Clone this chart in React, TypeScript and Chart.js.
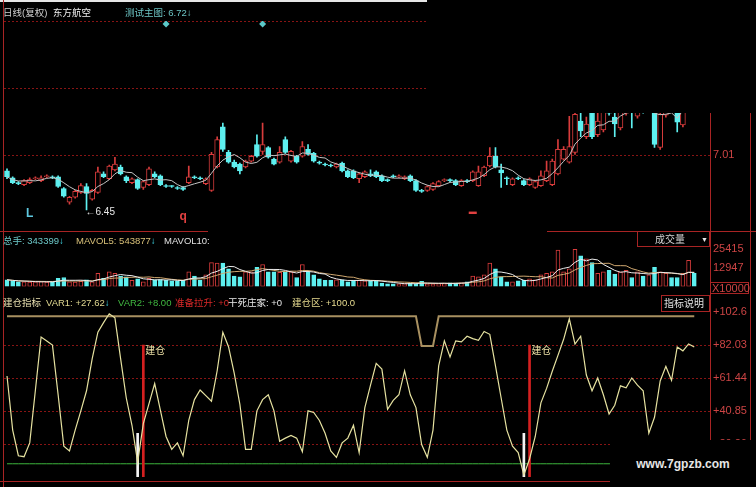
import React, { useEffect, useRef } from 'react';
import { Chart, registerables } from 'chart.js';
Chart.register(...registerables);

// ---------- data ----------
const openP = [
  6.85, 6.78, 6.73, 6.71, 6.73, 6.77, 6.75, 6.79, 6.79, 6.79,
  6.67, 6.53, 6.58, 6.63, 6.69, 6.56, 6.63, 6.82, 6.77, 6.86,
  6.89, 6.79, 6.73, 6.76, 6.68, 6.71, 6.82, 6.80, 6.70, 6.70,
  6.68, 6.68, 6.73, 6.79, 6.78, 6.72, 6.65, 6.89, 7.30, 7.04,
  6.94, 6.92, 6.89, 6.95, 7.12, 7.05, 7.09, 6.97, 6.94, 7.17,
  6.95, 7.00, 7.00, 7.07, 7.03, 6.94, 6.92, 6.91, 6.89, 6.93,
  6.85, 6.85, 6.77, 6.79, 6.82, 6.84, 6.80, 6.76, 6.80, 6.79,
  6.77, 6.80, 6.75, 6.65, 6.65, 6.66, 6.70, 6.75, 6.76, 6.75,
  6.70, 6.75, 6.75, 6.70, 6.80, 6.90, 7.00, 6.86, 6.78, 6.71,
  6.78, 6.75, 6.71, 6.68, 6.70, 6.75, 6.71, 6.82, 6.97, 6.94,
  7.04, 7.36, 7.20, 7.58, 7.22, 7.27, 7.52, 7.40, 7.29, 7.44,
  7.60, 7.41, 7.58, 7.48, 7.55, 7.09, 7.42, 7.56, 7.58, 7.32,
  7.52, 7.64,
];
const highP = [
  6.87, 6.79, 6.74, 6.76, 6.78, 6.79, 6.80, 6.81, 6.80, 6.80,
  6.68, 6.59, 6.65, 6.72, 6.72, 6.66, 6.89, 6.84, 6.91, 6.99,
  6.91, 6.80, 6.78, 6.77, 6.75, 6.89, 6.84, 6.81, 6.71, 6.70,
  6.69, 6.69, 6.90, 6.80, 6.79, 6.78, 7.04, 7.20, 7.34, 7.06,
  6.96, 6.93, 6.96, 7.01, 7.22, 7.34, 7.10, 6.98, 7.10, 7.20,
  7.06, 7.01, 7.15, 7.12, 7.04, 6.95, 6.93, 6.92, 6.93, 6.94,
  6.86, 6.86, 6.83, 6.85, 6.86, 6.85, 6.81, 6.77, 6.81, 6.81,
  6.80, 6.81, 6.76, 6.66, 6.70, 6.73, 6.75, 6.77, 6.77, 6.76,
  6.76, 6.76, 6.85, 6.90, 6.90, 7.09, 7.09, 6.92, 6.79, 6.78,
  6.79, 6.76, 6.78, 6.75, 6.85, 6.95, 6.97, 7.17, 7.10, 7.41,
  7.60, 7.55, 7.40, 7.62, 7.45, 7.55, 7.58, 7.48, 7.55, 7.60,
  7.65, 7.58, 7.63, 7.65, 7.60, 7.50, 7.60, 7.62, 7.62, 7.58,
  7.68, 7.68,
];
const lowP = [
  6.77, 6.72, 6.71, 6.70, 6.72, 6.76, 6.74, 6.78, 6.77, 6.68,
  6.58, 6.51, 6.57, 6.62, 6.45, 6.55, 6.62, 6.78, 6.76, 6.85,
  6.81, 6.73, 6.72, 6.66, 6.66, 6.70, 6.78, 6.70, 6.68, 6.68,
  6.66, 6.65, 6.72, 6.77, 6.76, 6.71, 6.64, 6.88, 7.05, 6.93,
  6.88, 6.82, 6.88, 6.94, 6.99, 7.02, 6.98, 6.91, 6.93, 7.03,
  6.94, 6.93, 6.99, 7.01, 6.94, 6.92, 6.90, 6.89, 6.88, 6.84,
  6.78, 6.77, 6.73, 6.78, 6.79, 6.78, 6.74, 6.74, 6.78, 6.78,
  6.76, 6.74, 6.64, 6.63, 6.64, 6.65, 6.69, 6.74, 6.74, 6.70,
  6.69, 6.73, 6.74, 6.69, 6.79, 6.89, 6.88, 6.68, 6.71, 6.70,
  6.76, 6.70, 6.70, 6.67, 6.69, 6.74, 6.70, 6.81, 6.96, 6.93,
  7.02, 7.20, 7.18, 7.18, 7.20, 7.25, 7.42, 7.20, 7.27, 7.42,
  7.29, 7.39, 7.44, 7.46, 7.09, 7.07, 7.40, 7.50, 7.25, 7.30,
  7.50, 7.52,
];
const closeP = [
  6.79, 6.73, 6.72, 6.75, 6.76, 6.78, 6.78, 6.80, 6.78, 6.69,
  6.59, 6.58, 6.64, 6.70, 6.62, 6.65, 6.84, 6.79, 6.90, 6.92,
  6.82, 6.75, 6.77, 6.67, 6.74, 6.87, 6.79, 6.71, 6.69, 6.69,
  6.67, 6.66, 6.79, 6.78, 6.77, 6.77, 7.02, 7.17, 7.07, 6.94,
  6.89, 6.85, 6.95, 7.00, 7.00, 7.12, 6.99, 6.92, 7.04, 7.04,
  7.05, 6.94, 7.10, 7.02, 6.95, 6.93, 6.91, 6.90, 6.92, 6.85,
  6.79, 6.78, 6.82, 6.84, 6.80, 6.79, 6.75, 6.75, 6.79, 6.80,
  6.79, 6.75, 6.65, 6.64, 6.69, 6.72, 6.74, 6.76, 6.75, 6.71,
  6.75, 6.74, 6.84, 6.84, 6.89, 7.00, 6.89, 6.83, 6.77, 6.77,
  6.77, 6.71, 6.77, 6.74, 6.80, 6.85, 6.95, 7.07, 7.07, 7.10,
  7.43, 7.26, 7.33, 7.20, 7.36, 7.46, 7.44, 7.33, 7.47, 7.52,
  7.50, 7.50, 7.46, 7.62, 7.12, 7.43, 7.52, 7.53, 7.35, 7.52,
  7.64, 7.56,
];
const volume = [
  4500, 3800, 3100, 3200, 3000, 3100, 3300, 3000, 3200, 5500,
  6100, 3100, 3000, 3500, 4500, 3100, 9000, 5500, 10000, 9000,
  7100, 6500, 4100, 5100, 3100, 5500, 4500, 4700, 4100, 3800,
  3400, 4100, 10000, 7100, 4100, 8000, 16300, 16000, 16000, 12000,
  7100, 6500, 10000, 10000, 13000, 15000, 10000, 10000, 9700, 10000,
  10000, 6100, 15000, 10000, 8000, 5100, 4100, 4100, 4500, 4500,
  3100, 4100, 4100, 3800, 4100, 3800, 2200, 1700, 1800, 1700,
  1900, 2200, 1800, 3500, 1800, 1800, 1900, 2000, 2500, 2200,
  2500, 3100, 7100, 6500, 8000, 16000, 12000, 6500, 3100, 3100,
  3800, 4100, 5100, 4500, 8000, 9000, 10000, 24800, 10000, 12000,
  25400, 20900, 18900, 16300, 9000, 10000, 11000, 8500, 10000, 11000,
  6100, 10000, 7100, 8000, 13000, 10000, 9000, 6100, 6100, 9000,
  17900, 9000,
];
const var1 = [
  62.7, 29, 13, 12.4, 21, 54, 87, 84.6, 82, 51,
  19, 16, 29, 41, 53.5, 73.6, 90, 96, 101.5, 99,
  73.6, 49, 32, 9, 33, 45.5, 58, 41.5, 25, 17,
  21, 13, 35, 48, 54, 50.5, 47, 66, 90, 81,
  64.5, 45, 17, 17, 41, 48, 51, 41, 22, 24,
  25.7, 24, 15.5, 41, 40, 35, 27, 16, 12, 21,
  24, 32, 15, 43, 57, 70.6, 67, 42, 47.5, 51,
  66, 51, 43, 20, 12, 29, 69, 84.6, 74.6, 84.6,
  84, 87.5, 86, 85, 90.5, 88.7, 69, 49, 29, 19,
  15, 1, 11, 25, 46, 55, 65.7, 75.6, 85.6, 98.4,
  82.6, 87.5, 63.3, 53.5, 61.5, 51, 39, 44.5, 56.6, 55.4,
  61.5, 57, 53.5, 27, 37, 59.6, 68.7, 60, 80.8, 78.4,
  82.7, 80.8,
];
const zoneLine = [
  100, 100, 100, 100, 100, 100, 100, 100, 100, 100,
  100, 100, 100, 100, 100, 100, 100, 100, 100, 100,
  100, 100, 100, 100, 100, 100, 100, 100, 100, 100,
  100, 100, 100, 100, 100, 100, 100, 100, 100, 100,
  100, 100, 100, 100, 100, 100, 100, 100, 100, 100,
  100, 100, 100, 100, 100, 100, 100, 100, 100, 100,
  100, 100, 100, 100, 100, 100, 100, 100, 100, 100,
  100, 100, 100, 81.4, 81.4, 81.4, 100, 100, 100, 100,
  100, 100, 100, 100, 100, 100, 100, 100, 100, 100,
  100, 100, 100, 100, 100, 100, 100, 100, 100, 100,
  100, 100, 100, 100, 100, 100, 100, 100, 100, 100,
  100, 100, 100, 100, 100, 100, 100, 100, 100, 100,
  100, 100,
];
const var2Line = [
  8, 8, 8, 8, 8, 8, 8, 8, 8, 8, 8, 8, 8, 8, 8, 8, 8, 8, 8, 8,
  8, 8, 8, 8, 8, 8, 8, 8, 8, 8, 8, 8, 8, 8, 8, 8, 8, 8, 8, 8,
  8, 8, 8, 8, 8, 8, 8, 8, 8, 8, 8, 8, 8, 8, 8, 8, 8, 8, 8, 8,
  8, 8, 8, 8, 8, 8, 8, 8, 8, 8, 8, 8, 8, 8, 8, 8, 8, 8, 8, 8,
  8, 8, 8, 8, 8, 8, 8, 8, 8, 8, 8, 8, 8, 8, 8, 8, 8, 8, 8, 8,
  8, 8, 8, 8, 8, 8, 8, 8, 8, 8, 8, 8, 8, 8, 8, 8, 8, 8, 8, 8,
  8, 8,
];
const priceTicks = [7.01, 7.6975, 8.385];
const priceLabels = ['7.01', '', ''];
const volTicks = [25415, 12947];
const volLabels = ['25415', '12947'];
const indTicks = [102.62, 82.03, 61.44, 40.85, 20.26];
const indGrid = [82.03, 61.44, 40.85, 20.26];
const buildIdx = [24, 92];
const buildTop = [82, 82];
const bottomIdx = [23, 91];
const bottomTop = [27, 27];
const diamondIdx = [28, 45];
const diamondPrice = [8.355, 8.355];
const noteIdx = [4, 31, 82];
const notePrice = [6.41, 6.38, 6.43];
const noteText = ['L', 'q', '▬'];
const noteColor = ['#5ec8e0', '#e04040', '#e04040'];

// ---------- style ----------
const FONT = '"Liberation Sans", "Noto Sans CJK SC", sans-serif';
const RED = '#d83c3c';
const CYAN = '#5ef0f0';
const AXIS = '#a82424';
const GRID = 'rgba(150,22,22,0.9)';
const LABEL = '#cc4444';
const X_MIN = -0.53;
const X_MAX = 123.77;

const movingAvg = (src: number[], n: number) =>
  src.map((_, i) => {
    const s = Math.max(0, i - n + 1);
    let t = 0;
    for (let k = s; k <= i; k++) t += src[k];
    return t / (i - s + 1);
  });
const pts = (arr: number[]) => arr.map((v, i) => ({ x: i, y: v }));

const xCfg = () => ({ type: 'linear', min: X_MIN, max: X_MAX, display: false, offset: false, grid: { display: false } });
const yCfg = (min: number, max: number, ticks: number[], fmt: (v: number, i: number) => string) => ({
  type: 'linear',
  position: 'right',
  min,
  max,
  afterFit: (s: any) => { s.width = 46; },
  afterBuildTicks: (s: any) => { s.ticks = ticks.map((v) => ({ value: v })); },
  ticks: { color: LABEL, font: { family: 'Liberation Sans', size: 11 }, padding: 3, autoSkip: false, callback: (v: any, i: number) => fmt(v, i) },
  grid: { display: true, drawOnChartArea: false, drawTicks: false },
  border: { display: true, color: AXIS, width: 1 },
});
const baseOpts = (pad: any) => ({
  responsive: false,
  animation: false,
  devicePixelRatio: 1,
  events: [],
  layout: { padding: pad },
  plugins: { legend: { display: false }, tooltip: { enabled: false } },
});
const dashGrid = (id: string, values: number[]) => ({
  id,
  beforeDatasetsDraw(chart: any) {
    const { ctx, chartArea: a, scales } = chart;
    const y = scales.y;
    ctx.save();
    ctx.strokeStyle = GRID;
    ctx.lineWidth = 1;
    ctx.setLineDash([2, 2]);
    values.forEach((v) => {
      const py = Math.round(y.getPixelForValue(v)) + 0.5;
      ctx.beginPath();
      ctx.moveTo(a.left, py);
      ctx.lineTo(a.right, py);
      ctx.stroke();
    });
    ctx.restore();
  },
});

const T = ({ x, y, c, s = 9.5, bold = false, children }: any) => (
  <div style={{ position: 'absolute', left: x, top: y - 7, height: 14, lineHeight: '14px', fontSize: s, color: c, whiteSpace: 'nowrap', fontWeight: bold ? 700 : 400 }}>{children}</div>
);
const Box = ({ x, y, w, h, border = AXIS, bg = 'transparent' }: any) => (
  <div style={{ position: 'absolute', left: x, top: y, width: w, height: h, border: `1px solid ${border}`, background: bg, boxSizing: 'border-box' }} />
);
const Rect = ({ x, y, w, h, bg }: any) => (
  <div style={{ position: 'absolute', left: x, top: y, width: w, height: h, background: bg }} />
);

export default function App() {
  const c1 = useRef<HTMLCanvasElement>(null);
  const c2 = useRef<HTMLCanvasElement>(null);
  const c3 = useRef<HTMLCanvasElement>(null);

  useEffect(() => {
    document.body.style.margin = '0';
    document.body.style.background = '#000';
    const up = closeP.map((c, i) => c >= openP[i]);
    const ma5 = movingAvg(closeP, 5);
    const vma5 = movingAvg(volume, 5);
    const vma10 = movingAvg(volume, 10);

    const mainText = {
      id: 'mainText',
      afterDatasetsDraw(chart: any) {
        const { ctx, scales } = chart;
        const x = scales.x, y = scales.y;
        ctx.save();
        let mi = 0;
        lowP.forEach((v, i) => { if (v < lowP[mi]) mi = i; });
        ctx.font = `10px ${FONT}`;
        ctx.fillStyle = '#e8e8e8';
        ctx.textBaseline = 'middle';
        ctx.textAlign = 'left';
        ctx.fillText('←' + lowP[mi].toFixed(2), x.getPixelForValue(mi) - 1, y.getPixelForValue(lowP[mi]) + 2);
        noteIdx.forEach((j, k) => {
          ctx.fillStyle = noteColor[k];
          ctx.font = `bold ${k === 2 ? 8 : 12}px ${FONT}`;
          ctx.textAlign = 'center';
          ctx.fillText(noteText[k], x.getPixelForValue(j), y.getPixelForValue(notePrice[k]));
        });
        ctx.restore();
      },
    };

    const ch1 = new Chart(c1.current as any, {
      type: 'bar',
      data: {
        datasets: [
          { type: 'line', data: pts(ma5), borderColor: '#c4c4c4', borderWidth: 1, pointRadius: 0, order: 1 } as any,
          { type: 'line', showLine: false, data: diamondIdx.map((j, k) => ({ x: j, y: diamondPrice[k] })), pointStyle: 'rectRot', pointRadius: 3.5, backgroundColor: '#5cc8c8', borderWidth: 0, order: 0 } as any,
          { type: 'bar', data: openP.map((o, i) => ({ x: i, y: [o, closeP[i]] })), backgroundColor: up.map((u) => (u ? '#000' : CYAN)), borderColor: up.map((u) => (u ? RED : CYAN)), borderWidth: 1, borderSkipped: false, barThickness: 5, minBarLength: 1, grouped: false, order: 2 } as any,
          { type: 'bar', data: lowP.map((l, i) => ({ x: i, y: [l, highP[i]] })), backgroundColor: up.map((u) => (u ? RED : CYAN)), borderWidth: 0, barThickness: 1, minBarLength: 1, grouped: false, order: 3 } as any,
        ],
      },
      options: {
        ...baseOpts({ top: 21, left: 4, right: 0, bottom: 1 }),
        scales: { x: xCfg(), y: yCfg(6.3226, 8.385, priceTicks, (v, i) => priceLabels[i]) },
      } as any,
      plugins: [dashGrid('g1', priceTicks), mainText],
    });

    const ch2 = new Chart(c2.current as any, {
      type: 'bar',
      data: {
        datasets: [
          { type: 'line', data: pts(vma5), borderColor: '#ececec', borderWidth: 1, pointRadius: 0, order: 1 } as any,
          { type: 'line', data: pts(vma10), borderColor: '#d0a870', borderWidth: 1, pointRadius: 0, order: 1 } as any,
          { type: 'bar', data: volume.map((v, i) => ({ x: i, y: v })), backgroundColor: up.map((u) => (u ? '#000' : CYAN)), borderColor: up.map((u) => (u ? RED : CYAN)), borderWidth: 1, borderSkipped: false, barThickness: 4, grouped: false, order: 2 } as any,
        ],
      },
      options: {
        ...baseOpts({ top: 14, left: 4, right: 0, bottom: 4 }),
        scales: { x: xCfg(), y: yCfg(0, 27637, volTicks, (v, i) => volLabels[i]) },
      } as any,
    });

    const indText = {
      id: 'indText',
      afterDatasetsDraw(chart: any) {
        const { ctx, scales } = chart;
        const x = scales.x, y = scales.y;
        ctx.save();
        ctx.font = `10px ${FONT}`;
        ctx.fillStyle = '#f0e4a8';
        ctx.textBaseline = 'top';
        ctx.textAlign = 'left';
        buildIdx.forEach((j, k) => {
          ctx.fillText('建仓', x.getPixelForValue(j) + 2, y.getPixelForValue(buildTop[k]) + 1);
        });
        ctx.restore();
      },
    };

    const ch3 = new Chart(c3.current as any, {
      type: 'bar',
      data: {
        datasets: [
          { type: 'line', data: pts(var1), borderColor: '#e6e2a0', borderWidth: 1.2, pointRadius: 0, order: 1 } as any,
          { type: 'bar', data: buildIdx.map((j, k) => ({ x: j, y: [0, buildTop[k]] })), backgroundColor: '#d42020', borderWidth: 0, barThickness: 2, grouped: false, order: 2 } as any,
          { type: 'bar', data: bottomIdx.map((j, k) => ({ x: j, y: [0, bottomTop[k]] })), backgroundColor: '#f4f4f4', borderWidth: 0, barThickness: 2, grouped: false, order: 2 } as any,
          { type: 'line', data: pts(var2Line), borderColor: '#3cb43c', borderWidth: 1, pointRadius: 0, order: 3 } as any,
          { type: 'line', data: pts(zoneLine), borderColor: '#a89060', borderWidth: 2, pointRadius: 0, order: 4 } as any,
        ],
      },
      options: {
        ...baseOpts({ top: 16, left: 4, right: 0, bottom: 6 }),
        scales: { x: xCfg(), y: yCfg(-0.5, 102.62, indTicks, (v) => '+' + Number(v).toPrecision(4)) },
      } as any,
      plugins: [dashGrid('g3', indGrid), indText],
    });

    return () => { ch1.destroy(); ch2.destroy(); ch3.destroy(); };
  }, []);

  const cyanArrow = '#40e0f0';
  return (
    <div style={{ position: 'fixed', left: 0, top: 0, width: 756, height: 487, background: '#000', overflow: 'hidden', fontFamily: FONT }}>
      <canvas ref={c1} width={756} height={232} style={{ position: 'absolute', left: 0, top: 0, display: 'block' }} />
      <canvas ref={c2} width={756} height={64} style={{ position: 'absolute', left: 0, top: 232, display: 'block' }} />
      <canvas ref={c3} width={756} height={191} style={{ position: 'absolute', left: 0, top: 296, display: 'block' }} />

      {/* frame pieces */}
      <Rect x={0} y={0} w={427} h={2} bg="#e6e6e6" />
      <Rect x={427} y={0} w={329} h={113} bg="#000" />
      <Rect x={3} y={0} w={1} h={487} bg={AXIS} />
      <Rect x={710} y={113} w={1} h={327} bg={AXIS} />
      <Rect x={750} y={113} w={1} h={327} bg={AXIS} />
      <Rect x={0} y={231} w={208} h={1} bg={AXIS} />
      <Rect x={547} y={231} w={209} h={1} bg={AXIS} />
      <Rect x={0} y={481} w={756} h={1} bg={AXIS} />

      {/* main header */}
      <T x={3} y={12.5} c="#d0d0d0">日线(复权)</T>
      <T x={53} y={12.5} c="#f0f0f0">东方航空</T>
      <T x={125} y={12.5} c="#6cc4c4">测试主图: 6.72↓</T>

      {/* volume header */}
      <T x={3} y={240.5} c="#6cc8c8">总手: 343399<span style={{ color: cyanArrow }}>↓</span></T>
      <T x={76} y={240.5} c="#d8c078">MAVOL5: 543877<span style={{ color: cyanArrow }}>↓</span></T>
      <T x={164} y={240.5} c="#e0e0e0">MAVOL10:</T>
      <Box x={637} y={231} w={73} h={16} />
      <T x={655} y={240} c="#d4d4d4" s={10}>成交量</T>
      <T x={701} y={240} c="#e8e8e8" s={7}>▼</T>
      <Box x={710} y={282} w={39} h={12} />
      <T x={712} y={288} c={LABEL} s={11}>X10000</T>

      {/* indicator header */}
      <T x={3} y={302.5} c="#e8e0b0">建仓指标</T>
      <T x={46} y={302.5} c="#e0d890">VAR1: +27.62<span style={{ color: cyanArrow }}>↓</span></T>
      <T x={118} y={302.5} c="#40b840">VAR2: +8.00</T>
      <T x={175} y={302.5} c="#d82828">准备拉升: +0</T>
      <T x={228} y={302.5} c="#e8e8e8">干死庄家: +0</T>
      <T x={292} y={302.5} c="#e8dc90">建仓区: +100.0</T>
      <Box x={661} y={295} w={49} h={17} />
      <T x={664} y={303.5} c="#e0e0e0" s={10}>指标说明</T>

      {/* watermark */}
      <div style={{ position: 'absolute', left: 610, top: 440, width: 146, height: 47, background: '#000', display: 'flex', alignItems: 'center', justifyContent: 'center', color: '#e6e6e6', fontSize: 12, fontWeight: 700, fontFamily: '"Liberation Sans", sans-serif' }}>
        www.7gpzb.com
      </div>
    </div>
  );
}
